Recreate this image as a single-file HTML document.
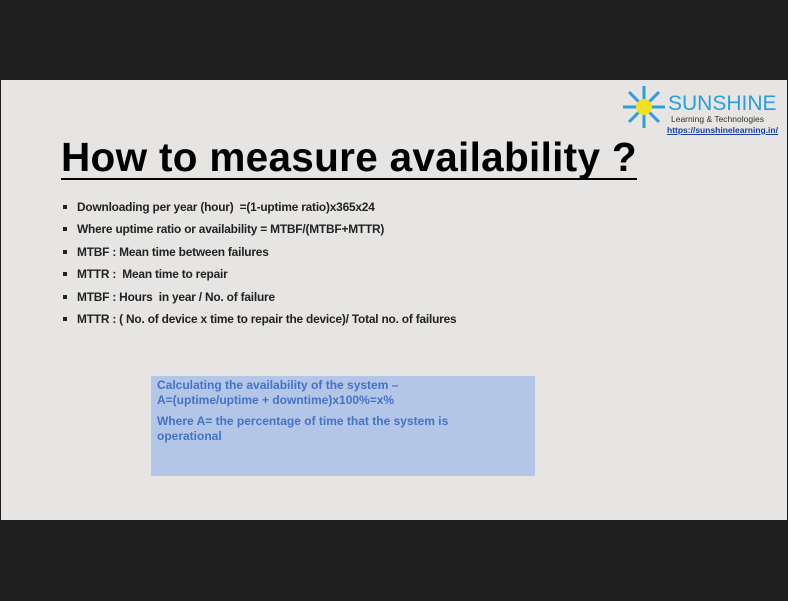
<!DOCTYPE html>
<html><head><meta charset="utf-8"><style>
body{margin:0;width:788px;height:601px;background:#1f1f1f;position:relative;overflow:hidden;font-family:"Liberation Sans",sans-serif}
#slide{position:absolute;left:1px;top:80px;width:786px;height:440px;background:#e6e5e3}
.t{position:absolute;white-space:nowrap}
ul{position:absolute;left:60px;top:120px;margin:0;padding:0;list-style:none}
li{position:relative;padding-left:16px;font-size:11.9px;font-weight:bold;color:#222;height:22.4px;line-height:14px;letter-spacing:-0.2px}
li:before{content:"";position:absolute;left:2px;top:5px;width:4px;height:4px;background:#222}
</style></head><body>
<div id="slide">
<svg class="t" style="left:620px;top:4px" width="46" height="46">
<g stroke="#2a9fd8" stroke-width="3">
<line x1="23" y1="23" x2="23" y2="2"/><line x1="23" y1="23" x2="38" y2="8"/><line x1="23" y1="23" x2="44" y2="23"/><line x1="23" y1="23" x2="38" y2="38"/><line x1="23" y1="23" x2="23" y2="44"/><line x1="23" y1="23" x2="8" y2="38"/><line x1="23" y1="23" x2="2" y2="23"/><line x1="23" y1="23" x2="8" y2="8"/></g>
<circle cx="23" cy="23" r="8" fill="#f5e020"/></svg>
<div class="t" style="left:667px;top:12px;font-size:21px;color:#2a9fd8">SUNSHINE</div>
<div class="t" style="left:670px;top:34px;font-size:8.5px;color:#333">Learning &amp; Technologies</div>
<div class="t" style="left:666px;top:45px;font-size:8.5px;color:#1a3fa0;text-decoration:underline;font-weight:bold">https://sunshinelearning.in/</div>
<div class="t" style="left:60px;top:56px;font-size:40.5px;font-weight:bold;color:#000;border-bottom:2px solid #000;line-height:42px;letter-spacing:0.3px">How to measure availability ?</div>
<ul>
<li>Downloading per year (hour)&nbsp; =(1-uptime ratio)x365x24</li>
<li>Where uptime ratio or availability = MTBF/(MTBF+MTTR)</li>
<li>MTBF : Mean time between failures</li>
<li>MTTR :&nbsp; Mean time to repair</li>
<li>MTBF : Hours&nbsp; in year / No. of failure</li>
<li>MTTR : ( No. of device x time to repair the device)/ Total no. of failures</li>
</ul>
<div class="t" style="left:150px;top:296px;width:384px;height:100px;background:#b3c6e8;color:#4472c4;font-size:12px;font-weight:bold;padding:0 6px;box-sizing:border-box;line-height:15px;white-space:normal">
<div style="margin-top:2px">Calculating the availability of the system –<br>A=(uptime/uptime + downtime)x100%=x%</div>
<div style="margin-top:6px">Where A= the percentage of time that the system is<br>operational</div>
</div>
</div>
</body></html>
